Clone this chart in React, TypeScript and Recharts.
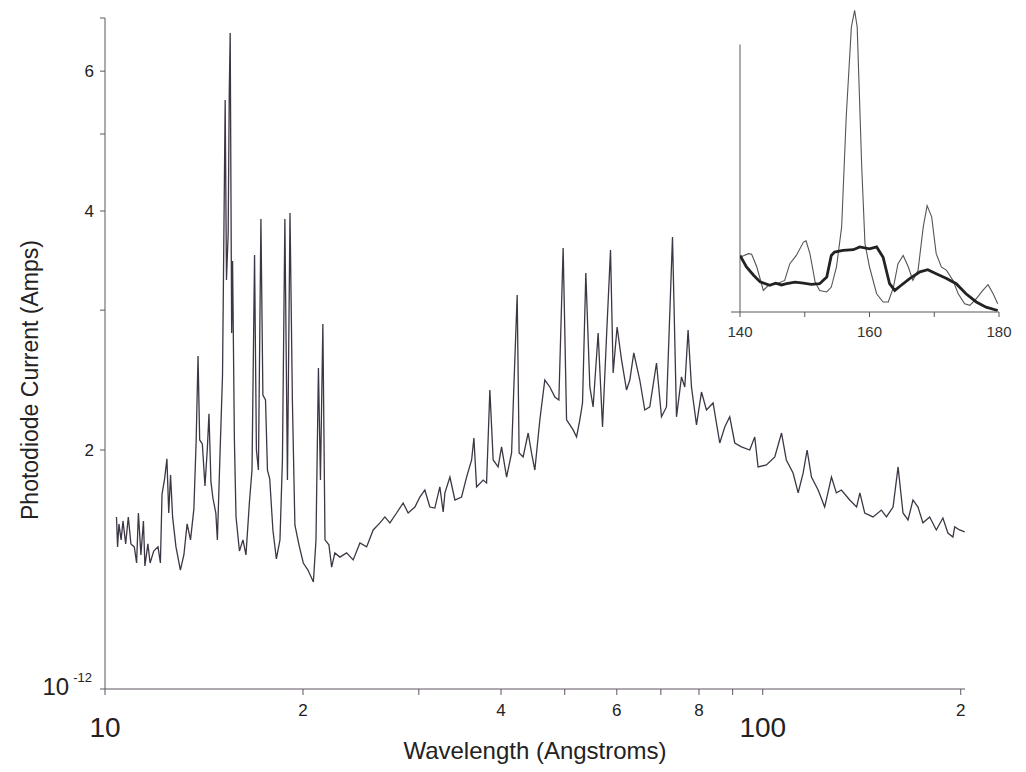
import React from 'react';
import { LineChart, Line, XAxis, YAxis, ReferenceLine } from 'recharts';

// main spectrum: wavelength (Angstroms) vs photodiode current (x 1e-12 A)
const wavelength = [
  10.41, 10.45, 10.5, 10.58, 10.65, 10.75, 10.85, 10.95, 11.08, 11.17, 11.24, 11.34, 11.44, 11.5, 11.62, 11.71,
  11.86, 12.04, 12.14, 12.21, 12.32, 12.42, 12.5, 12.58, 12.67, 12.82, 13.02, 13.18, 13.33, 13.49, 13.65, 13.76,
  13.85, 13.93, 14.06, 14.19, 14.31, 14.39, 14.49, 14.59, 14.74, 14.82, 14.95, 15.09, 15.23, 15.3, 15.39, 15.45,
  15.5, 15.58, 15.63, 15.73, 15.82, 16.01, 16.21, 16.38, 16.58, 16.73, 16.88, 16.99, 17.11, 17.26, 17.38, 17.54,
  17.66, 17.8, 18.0, 18.22, 18.45, 18.61, 18.77, 18.94, 19.11, 19.27, 19.44, 19.72, 20.02, 20.35, 20.74, 20.93,
  21.11, 21.26, 21.44, 21.6, 21.9, 22.11, 22.36, 22.76, 23.3, 23.84, 24.41, 24.99, 25.57, 26.18, 26.64, 27.11,
  27.75, 28.4, 28.9, 29.59, 30.11, 30.64, 31.18, 31.73, 32.29, 32.67, 32.87, 33.45, 34.04, 34.84, 35.46, 36.09,
  36.38, 36.72, 37.58, 38.03, 38.47, 38.92, 39.6, 40.08, 40.79, 41.51, 41.84, 42.33, 42.62, 43.22, 43.99, 44.51,
  45.03, 45.83, 46.63, 47.46, 48.3, 48.98, 49.72, 50.32, 51.49, 52.11, 52.71, 53.21, 53.83, 54.59, 55.22, 56.2,
  57.07, 57.87, 58.69, 59.23, 60.06, 61.0, 62.07, 62.79, 63.67, 65.02, 66.17, 67.34, 68.94, 70.15, 71.39, 72.91,
  73.94, 75.24, 76.12, 77.0, 77.92, 79.3, 80.7, 82.12, 84.04, 86.03, 87.55, 89.09, 90.67, 92.82, 95.55, 97.24,
  98.37, 101.3, 104.3, 106.8, 108.6, 111.2, 113.2, 115.2, 116.8, 118.6, 121.4, 124.2, 127.2, 129.4, 131.7, 135.6,
  138.9, 140.5, 142.9, 147.1, 151.5, 154.2, 157.8, 160.6, 163.4, 166.3, 169.2, 172.2, 175.2, 179.4, 183.6, 187.9,
  191.2, 194.6, 195.8, 199.2, 202.8,
];
const current = [
  1.647, 1.51, 1.614, 1.541, 1.628, 1.523, 1.647, 1.523, 1.51, 1.441, 1.666, 1.475, 1.628, 1.429, 1.523, 1.441,
  1.492, 1.51, 1.441, 1.76, 1.839, 1.949, 1.666, 1.86, 1.647, 1.51, 1.412, 1.475, 1.614, 1.541, 1.686, 2.059,
  2.627, 2.059, 2.035, 1.802, 2.012, 2.221, 1.823, 1.74, 1.666, 1.541, 1.949, 2.486, 5.519, 3.275, 3.742, 5.631,
  6.702, 2.808, 3.46, 2.059, 1.647, 1.492, 1.541, 1.475, 1.72, 1.887, 3.521, 2.0, 1.887, 3.908, 2.346, 2.312,
  1.887, 1.839, 1.586, 1.458, 1.541, 1.943, 3.908, 1.833, 3.977, 2.312, 1.609, 1.519, 1.441, 1.412, 1.364, 1.541,
  2.537, 1.833, 2.882, 1.541, 1.519, 1.424, 1.484, 1.466, 1.484, 1.454, 1.527, 1.51, 1.586, 1.619, 1.647, 1.619,
  1.666, 1.715, 1.666, 1.695, 1.745, 1.781, 1.695, 1.69, 1.797, 1.671, 1.766, 1.849, 1.73, 1.745, 1.849, 1.943,
  2.071, 1.797, 1.833, 1.818, 2.38, 1.943, 1.904, 2.018, 1.849, 1.983, 2.401, 3.135, 1.983, 1.96, 2.101, 1.983,
  1.887, 2.183, 2.45, 2.401, 2.332, 2.312, 3.593, 2.183, 2.12, 2.077, 2.183, 2.292, 3.342, 2.401, 2.266, 2.808,
  2.138, 2.776, 3.572, 2.501, 2.857, 2.597, 2.38, 2.45, 2.65, 2.45, 2.246, 2.266, 2.574, 2.202, 2.266, 3.709,
  2.202, 2.472, 2.401, 2.832, 2.401, 2.151, 2.366, 2.246, 2.292, 2.041, 2.138, 2.202, 2.041, 2.018, 2.0, 2.077,
  1.904, 1.915, 1.96, 2.101, 1.943, 1.871, 1.766, 1.871, 2.0, 1.849, 1.781, 1.695, 1.849, 1.766, 1.781, 1.73,
  1.695, 1.766, 1.666, 1.647, 1.68, 1.647, 1.695, 1.904, 1.666, 1.633, 1.73, 1.695, 1.619, 1.647, 1.586, 1.642,
  1.572, 1.554, 1.6, 1.586, 1.577,
];

// inset 140-180 A: thin and thick traces (arbitrary units)
const insetThinW = [
  140, 141.3, 141.8, 142.6, 143.6, 144.4, 145.7, 146.9, 147.7, 148.7, 149.8, 150.2, 150.8, 151.6, 152.3, 153.4,
  154.1, 154.9, 155.7, 156.4, 157.2, 157.7, 158.1, 158.8, 159.3, 160, 161.1, 162.1, 162.9, 163.7, 164.4, 165.2,
  166, 166.7, 167.5, 168.3, 168.9, 169.6, 170.3, 171.1, 171.9, 172.9, 173.7, 174.7, 175.5, 176.5, 177.5, 178.3,
  179.1, 179.8,
];
const insetThinV = [
  18, 19.2, 19, 14.8, 7.1, 8.8, 9.3, 10.4, 15.9, 18.6, 23, 23.4, 19.2, 9.9, 7.1, 6.6,
  8.2, 14.8, 28, 64, 93.7, 99.2, 93.7, 47.7, 22.5, 14.8, 6, 3.3, 3.3, 8.2, 15.9, 18.6,
  14.8, 10.4, 13.7, 28, 35, 31.3, 19.2, 14.8, 13.7, 10.4, 6, 2.7, 2.2, 4.4, 7.1, 9,
  6, 2.7,
];
const insetThickW = [
  140, 141, 142.1, 143.1, 144.6, 145.5, 146.4, 147.2, 148.5, 149.8, 151, 152.3, 153.4, 154.1, 154.6, 155.9,
  157.5, 158.5, 160, 161.1, 162.1, 163.1, 163.9, 164.9, 166.2, 167.8, 169, 170.3, 171.9, 173.4, 174.9, 176.5,
  178, 179.8,
];
const insetThickV = [
  18.6, 14.8, 12.1, 9.9, 8.8, 9.5, 8.9, 9.3, 9.8, 9.5, 9.1, 9.3, 11.5, 18.6, 19.7, 20.3,
  20.5, 21.4, 20.8, 21.4, 18, 9.3, 7.1, 8.8, 11, 13.2, 13.9, 12.6, 11, 9.3, 6, 3.3,
  1.6, 0.5,
];

const xTicks = [10, 20, 30, 40, 50, 60, 70, 80, 90, 100, 200];
const xTickLabels: Record<number, string> = { 10: '10', 20: '2', 40: '4', 60: '6', 80: '8', 100: '100', 200: '2' };
const yTicks = [1, 2, 3, 4, 5, 6, 7];
const yTickLabels: Record<number, string> = { 2: '2', 4: '4', 6: '6' };
const insetTicks = [140, 150, 160, 170, 180];
const insetTickLabels: Record<number, string> = { 140: '140', 160: '160', 180: '180' };

const spectrum = wavelength.map((w, i) => ({ w, v: current[i] }));
const thin = insetThinW.map((w, i) => ({ w, v: insetThinV[i] }));
const thick = insetThickW.map((w, i) => ({ w, v: insetThickV[i] }));

const FONT = 'Liberation Sans, Arial, Helvetica, sans-serif';
const AXIS = '#5c5560';
const TEXT = '#222';

const XTick = (props: any) => {
  const { x, y, payload } = props;
  const label = xTickLabels[payload.value];
  if (!label) return <g />;
  const big = label.length > 1;
  return (
    <text x={x} y={y + (big ? 40 : 19)} textAnchor="middle" fontSize={big ? 28 : 17} fontFamily={FONT} fill={TEXT}>
      {label}
    </text>
  );
};

const YTick = (props: any) => {
  const { x, y, payload } = props;
  if (payload.value === 1) {
    return (
      <text x={x - 6} y={y + 6} textAnchor="end" fontSize={24} fontFamily={FONT} fill={TEXT}>
        10
        <tspan dx={4} dy={-13} fontSize={13}>-12</tspan>
      </text>
    );
  }
  const label = yTickLabels[payload.value];
  if (!label) return <g />;
  return (
    <text x={x - 4} y={y + 6} textAnchor="end" fontSize={17} fontFamily={FONT} fill={TEXT}>
      {label}
    </text>
  );
};

const InsetTick = (props: any) => {
  const { x, y, payload } = props;
  const label = insetTickLabels[payload.value];
  if (!label) return <g />;
  return (
    <text x={x} y={y + 18} textAnchor="middle" fontSize={15} fontFamily={FONT} fill="#333">
      {label}
    </text>
  );
};

export default function App() {
  return (
    <div style={{ position: 'absolute', left: 0, top: 0, width: 1026, height: 772, background: '#fff' }}>
      <LineChart width={1026} height={772} data={spectrum} margin={{ top: 18, right: 61, bottom: 0, left: 0 }}>
        <XAxis
          dataKey="w"
          type="number"
          scale="log"
          domain={[10, 203]}
          allowDataOverflow
          ticks={xTicks}
          interval={0}
          height={83}
          tickSize={6}
          stroke={AXIS}
          tick={(p: any) => <XTick {...p} />}
          label={{
            content: () => (
              <text x={535} y={759} textAnchor="middle" fontSize={24} fontFamily={FONT} fill={TEXT}>
                Wavelength (Angstroms)
              </text>
            ),
          }}
        />
        <YAxis
          dataKey="v"
          type="number"
          scale="log"
          domain={[1, 7]}
          allowDataOverflow
          ticks={yTicks}
          interval={0}
          width={105}
          tickSize={5}
          stroke={AXIS}
          tick={(p: any) => <YTick {...p} />}
          label={{
            content: () => (
              <text
                x={30}
                y={380}
                transform="rotate(-90, 30, 380)"
                textAnchor="middle"
                dominantBaseline="central"
                fontSize={23}
                fontFamily={FONT}
                fill={TEXT}
              >
                Photodiode Current (Amps)
              </text>
            ),
          }}
        />
        <Line
          type="linear"
          dataKey="v"
          stroke="#3e3644"
          strokeWidth={1.3}
          dot={false}
          isAnimationActive={false}
        />
      </LineChart>

      <div style={{ position: 'absolute', left: 720, top: 0 }}>
        <LineChart width={306} height={350} margin={{ top: 8, right: 27, bottom: 0, left: 11 }}>
          <XAxis
            dataKey="w"
            type="number"
            domain={[140, 180]}
            allowDataOverflow
            ticks={insetTicks}
            interval={0}
            padding={{ left: 9, right: 0 }}
            height={38}
            tickSize={5}
            stroke={AXIS}
            tick={(p: any) => <InsetTick {...p} />}
          />
          <YAxis type="number" domain={[0, 100]} allowDataOverflow hide />
          <ReferenceLine
            segment={[
              { x: 140, y: 0 },
              { x: 140, y: 88 },
            ]}
            stroke={AXIS}
            strokeWidth={1}
          />
          <Line
            data={thin}
            type="linear"
            dataKey="v"
            stroke="#555"
            strokeWidth={1.1}
            dot={false}
            isAnimationActive={false}
          />
          <Line
            data={thick}
            type="linear"
            dataKey="v"
            stroke="#222"
            strokeWidth={2.8}
            dot={false}
            isAnimationActive={false}
          />
        </LineChart>
      </div>
    </div>
  );
}
